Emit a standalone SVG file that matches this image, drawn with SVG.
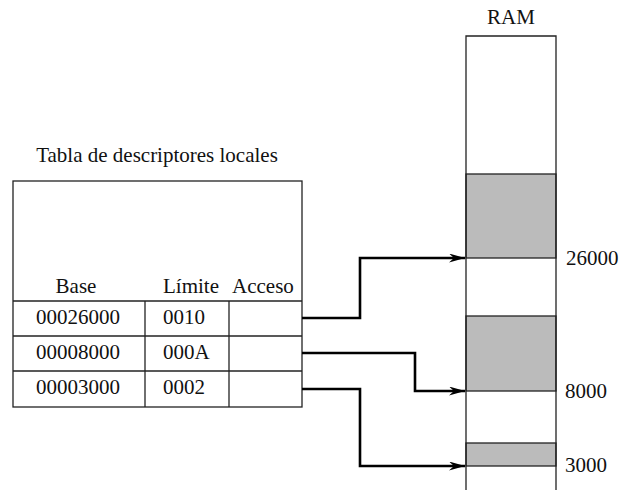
<svg xmlns="http://www.w3.org/2000/svg" width="620" height="490" viewBox="0 0 620 490">
<style>
text{font-family:"Liberation Serif","Times New Roman",serif;font-size:21px;fill:#111}
.ln{fill:none;stroke:#222;stroke-width:1.3}
.gray{fill:#bbbbbb;stroke:#222;stroke-width:1.3}
.arr{fill:none;stroke:#000;stroke-width:2.6}
</style>
<defs>
<marker id="ah" viewBox="0 0 16 9" refX="16" refY="4.5" markerWidth="16" markerHeight="9" markerUnits="userSpaceOnUse" orient="auto">
<path d="M0,0 L16,4.5 L0,9 L5,4.5 Z" fill="#000"/>
</marker>
</defs>
<rect width="620" height="490" fill="#fff"/>
<g id="table">
<text x="157" y="162" text-anchor="middle">Tabla de descriptores locales</text>
<rect class="ln" x="13" y="181" width="289" height="226"/>
<line class="ln" x1="13" y1="301" x2="302" y2="301"/>
<line class="ln" x1="13" y1="336" x2="302" y2="336"/>
<line class="ln" x1="13" y1="371" x2="302" y2="371"/>
<line class="ln" x1="145" y1="301" x2="145" y2="407"/>
<line class="ln" x1="229" y1="301" x2="229" y2="407"/>
<text x="76" y="293" text-anchor="middle">Base</text>
<text x="163" y="293">Límite</text>
<text x="232" y="293">Acceso</text>
<text x="78" y="324" text-anchor="middle">00026000</text>
<text x="163" y="324">0010</text>
<text x="78" y="359" text-anchor="middle">00008000</text>
<text x="163" y="359">000A</text>
<text x="78" y="394" text-anchor="middle">00003000</text>
<text x="163" y="394">0002</text>
</g>
<g id="ram">
<text x="511" y="24" text-anchor="middle">RAM</text>
<rect class="gray" x="466" y="174" width="90" height="84"/>
<rect class="gray" x="466" y="316" width="90" height="75"/>
<rect class="gray" x="466" y="443" width="90" height="23"/>
<path class="ln" d="M466,490 V36 H556 V490"/>
<text x="566" y="265">26000</text>
<text x="565" y="398">8000</text>
<text x="565" y="472">3000</text>
</g>
<g id="connectors">
<path class="arr" d="M302,318 H360 V258 H465" marker-end="url(#ah)"/>
<path class="arr" d="M302,353 H415 V391 H465" marker-end="url(#ah)"/>
<path class="arr" d="M302,389 H360 V466 H465" marker-end="url(#ah)"/>
</g>
</svg>
